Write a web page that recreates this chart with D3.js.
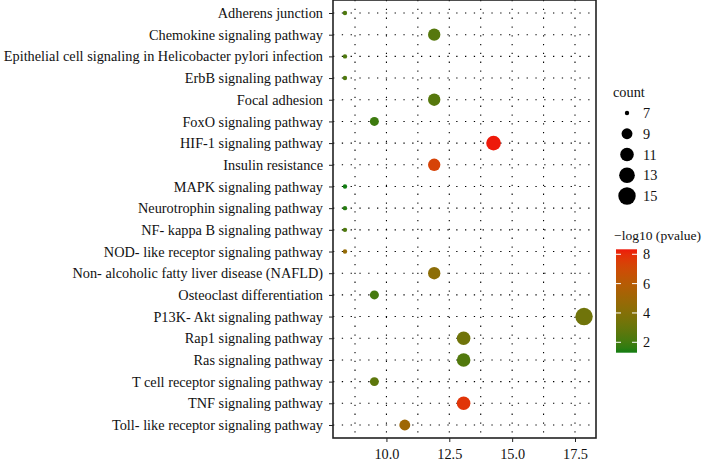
<!DOCTYPE html>
<html><head><meta charset="utf-8">
<script src="https://cdn.jsdelivr.net/npm/d3@7"></script>
<style>body{margin:0;background:#fff;} svg{display:block;} text{font-family:"Liberation Serif","Times New Roman",serif;fill:#111;}</style>
</head><body>
<script>
const pathways = ["Adherens junction","Chemokine signaling pathway","Epithelial cell signaling in Helicobacter pylori infection","ErbB signaling pathway","Focal adhesion","FoxO signaling pathway","HIF-1 signaling pathway","Insulin resistance","MAPK signaling pathway","Neurotrophin signaling pathway","NF- kappa B signaling pathway","NOD- like receptor signaling pathway","Non- alcoholic fatty liver disease (NAFLD)","Osteoclast differentiation","P13K- Akt signaling pathway","Rap1 signaling pathway","Ras signaling pathway","T cell receptor signaling pathway","TNF signaling pathway","Toll- like receptor signaling pathway"];
const xValues = [8.35,11.9,8.35,8.35,11.9,9.52,14.26,11.9,8.35,8.35,8.35,8.35,11.9,9.52,17.86,13.07,13.07,9.52,13.07,10.73];
const counts = [7,10,7,7,10,8,12,10,7,7,7,7,10,8,15,11,11,8,11,9];
const logP = [2.3,2.5,2.3,2.3,2.5,1.9,8.34,7.3,1.29,1.5,2.3,4.6,4.3,2.1,3.3,3.3,2.4,2.7,7.8,5.0];
const xTicks = [10,12.5,15,17.5];
const sizeBreaks = [7,9,11,13,15];
const colorTicks = [2,4,6,8];

const W=704,H=462, FS=14.3;
const panel={l:333,r:596,t:0,b:438};
const svg=d3.select("body").append("svg").attr("width",W).attr("height",H);

const xmin=d3.min(xValues), xmax=d3.max(xValues), xr=xmax-xmin;
const x=d3.scaleLinear().domain([xmin-0.05*xr,xmax+0.05*xr]).range([panel.l,panel.r]);
const y=d3.scalePoint().domain(pathways).range([panel.t,panel.b]).padding(0.6);
const cmin=d3.min(logP), cmax=d3.max(logP);
const color=d3.scaleLinear().domain([cmin,cmax]).range(["#127d12","#ee1a0a"]).interpolate(d3.interpolateLab);
const cmin2=d3.min(counts), cmax2=d3.max(counts);
const sizeT=d3.scaleLinear().domain([cmin2,cmax2]).range([0,1]);
const rad=c=>0.9+1.3*(1+5*Math.sqrt(sizeT(c)));

// grid
const g=svg.append("g");
const minor=d3.range(xTicks.length+1).map(i=>xTicks[0]-1.25+2.5*i).filter(v=>v>x.domain()[0]&&v<x.domain()[1]);
g.selectAll(".vg").data(xTicks.concat(minor)).join("line")
 .attr("x1",d=>x(d)).attr("x2",d=>x(d)).attr("y1",panel.t).attr("y2",panel.b)
 .attr("stroke","#000").attr("stroke-width",1.1).attr("stroke-dasharray","1.3,7.5");
g.selectAll(".hg").data(pathways).join("line")
 .attr("x1",panel.l).attr("x2",panel.r).attr("y1",d=>y(d)).attr("y2",d=>y(d))
 .attr("stroke","#000").attr("stroke-width",1.1).attr("stroke-dasharray","1.3,7.5");

// points
const data=pathways.map((p,i)=>({p,x:xValues[i],c:counts[i],v:logP[i]}));
svg.append("g").selectAll("circle").data(data).join("circle")
 .attr("cx",d=>x(d.x)).attr("cy",d=>y(d.p)).attr("r",d=>rad(d.c)).attr("fill",d=>color(d.v));

// border
svg.append("rect").attr("x",panel.l).attr("y",panel.t).attr("width",panel.r-panel.l).attr("height",panel.b-panel.t)
 .attr("fill","none").attr("stroke","#222").attr("stroke-width",1.6);

// axes
const xa=svg.append("g").attr("transform",`translate(0,${panel.b})`)
 .call(d3.axisBottom(x).tickValues(xTicks).tickFormat(d3.format(".1f")).tickSize(4).tickPadding(7));
const ya=svg.append("g").attr("transform",`translate(${panel.l},0)`)
 .call(d3.axisLeft(y).tickSize(4).tickPadding(6));
[xa,ya].forEach(a=>{a.select(".domain").remove();a.selectAll("line").attr("stroke","#222").attr("stroke-width",1);
 a.selectAll("text").attr("font-family","Liberation Serif").attr("font-size",FS).attr("fill","#111");});

// size legend
const sl=svg.append("g");
sl.append("text").attr("x",613).attr("y",97).attr("font-size",FS).text("count");
const sy=d3.scalePoint().domain(sizeBreaks).range([113,196]);
sl.selectAll("circle").data(sizeBreaks).join("circle").attr("cx",627).attr("cy",d=>sy(d)).attr("r",d=>rad(d)).attr("fill","#000");
sl.selectAll(".lab").data(sizeBreaks).join("text").attr("x",643).attr("y",d=>sy(d)).attr("dy","0.35em").attr("font-size",FS).text(d=>d);

// color legend
const cl=svg.append("g");
cl.append("text").attr("x",614).attr("y",240).attr("font-size",13.5)
 .attr("textLength",87).attr("lengthAdjust","spacingAndGlyphs").text("\u2212log10 (pvalue)");
const barTop=249.3, barBot=352.7, bx=616, bw=21;
const cy=d3.scaleLinear().domain([cmin,cmax]).range([barBot,barTop]);
const defs=svg.append("defs");
const grad=defs.append("linearGradient").attr("id","cg").attr("x1",0).attr("x2",0).attr("y1",1).attr("y2",0);
d3.range(0,1.0001,0.05).forEach(t=>grad.append("stop").attr("offset",t).attr("stop-color",color(cmin+t*(cmax-cmin))));
cl.append("rect").attr("x",bx).attr("y",barTop).attr("width",bw).attr("height",barBot-barTop).attr("fill","url(#cg)");
colorTicks.forEach(v=>{
 cl.append("line").attr("x1",bx).attr("x2",bx+5).attr("y1",cy(v)).attr("y2",cy(v)).attr("stroke","#fff").attr("stroke-width",1);
 cl.append("line").attr("x1",bx+bw-5).attr("x2",bx+bw).attr("y1",cy(v)).attr("y2",cy(v)).attr("stroke","#fff").attr("stroke-width",1);
 cl.append("text").attr("x",643).attr("y",cy(v)).attr("dy","0.35em").attr("font-size",FS).text(v);
});
</script>
</body></html>
